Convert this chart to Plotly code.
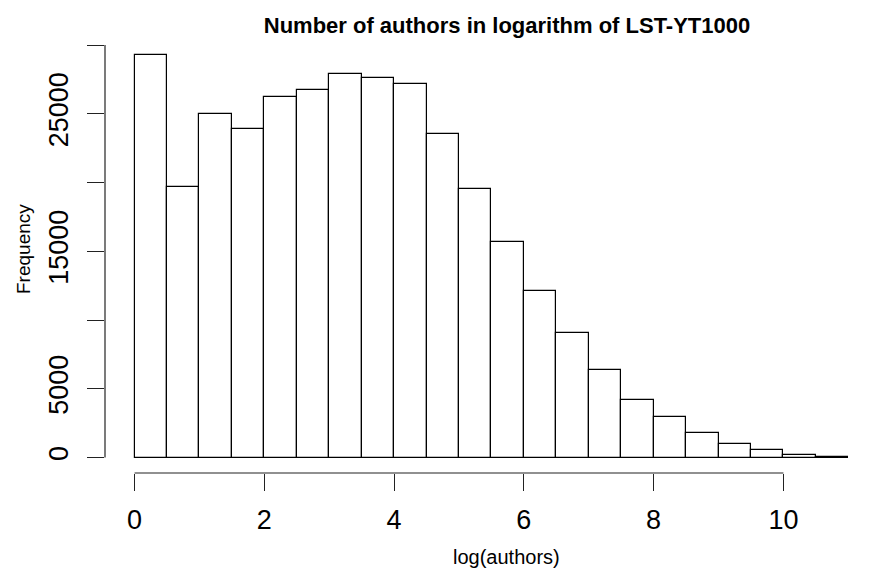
import plotly.graph_objects as go

# Histogram data (bins of width 0.5 from 0 to 11)
bin_width = 0.5
bin_starts = [i * 0.5 for i in range(22)]
counts = [29300, 19700, 25000, 23900, 26200, 26700, 27900, 27600, 27200, 23500,
          19500, 15700, 12100, 9050, 6350, 4200, 2950, 1800, 1000, 520, 200, 50]
x_ticks = [0, 2, 4, 6, 8, 10]
y_ticks = [0, 5000, 10000, 15000, 20000, 25000, 30000]
y_tick_labels = ["0", "5000", "", "15000", "", "25000", ""]

title_text = "Number of authors in logarithm of LST-YT1000"
x_label = "log(authors)"
y_label = "Frequency"

centers = [s + bin_width / 2 for s in bin_starts]

W, H = 872, 570
L, R, T, B = 105, 0, 40, 97
plot_w = W - L - R
plot_h = H - T - B

FONT = "Liberation Sans, Arial, Helvetica, sans-serif"

fig = go.Figure()
fig.add_trace(go.Bar(
    x=centers, y=counts, width=[bin_width] * len(counts),
    marker=dict(color="white", line=dict(color="black", width=1.2)),
    hoverinfo="x+y",
))

x_px0, x_scale = 134.6, 64.88  # pixel of 0 and pixels per unit
y_px0, y_scale = 457.5, 0.01375
x_range = [(L - x_px0) / x_scale, (W - R - x_px0) / x_scale]
y_range = [-(T + plot_h - y_px0) / y_scale, (y_px0 - T) / y_scale]

fig.update_layout(
    width=W, height=H,
    margin=dict(l=L, r=R, t=T, b=B, pad=0),
    plot_bgcolor="white", paper_bgcolor="white",
    showlegend=False, bargap=0,
    font=dict(family=FONT, color="black"),
    title=dict(text="<b>" + title_text + "</b>", x=507 / W, xref="container",
               xanchor="center", y=1 - 25 / H, yref="container", yanchor="middle",
               font=dict(size=22, family=FONT, color="black")),
    xaxis=dict(range=x_range, showgrid=False, zeroline=False, showline=False,
               tickmode="array", tickvals=x_ticks, ticktext=[str(v) for v in x_ticks],
               ticks="outside", ticklen=17, tickwidth=1, tickcolor="#222",
               tickfont=dict(size=27, family=FONT, color="black"),
               ticklabelstandoff=6),
    yaxis=dict(range=y_range, showgrid=False, zeroline=False, showline=False,
               tickmode="array", tickvals=y_ticks, ticktext=y_tick_labels,
               ticks="outside", ticklen=17, tickwidth=1, tickcolor="#222",
               tickangle=-90,
               tickfont=dict(size=27, family=FONT, color="black"),
               ticklabelstandoff=8),
)

# R-style axis lines spanning only the tick range
fig.add_shape(type="line", xref="x", yref="paper", x0=x_ticks[0], x1=x_ticks[-1],
              y0=0, y1=0, line=dict(color="#222", width=1.2))
fig.add_shape(type="line", xref="paper", yref="y", x0=0, x1=0,
              y0=y_ticks[0], y1=y_ticks[-1], line=dict(color="#222", width=1.2))

fig.add_annotation(text=y_label, xref="paper", yref="paper",
                   x=(24 - L) / plot_w, y=(T + plot_h - 249) / plot_h,
                   xanchor="center", yanchor="middle", textangle=-90, showarrow=False,
                   font=dict(size=19, family=FONT, color="black"))
fig.add_annotation(text=x_label, xref="paper", yref="paper",
                   x=(506 - L) / plot_w, y=(T + plot_h - 557) / plot_h,
                   xanchor="center", yanchor="middle", showarrow=False,
                   font=dict(size=20, family=FONT, color="black"))

fig.write_html("out.html")
